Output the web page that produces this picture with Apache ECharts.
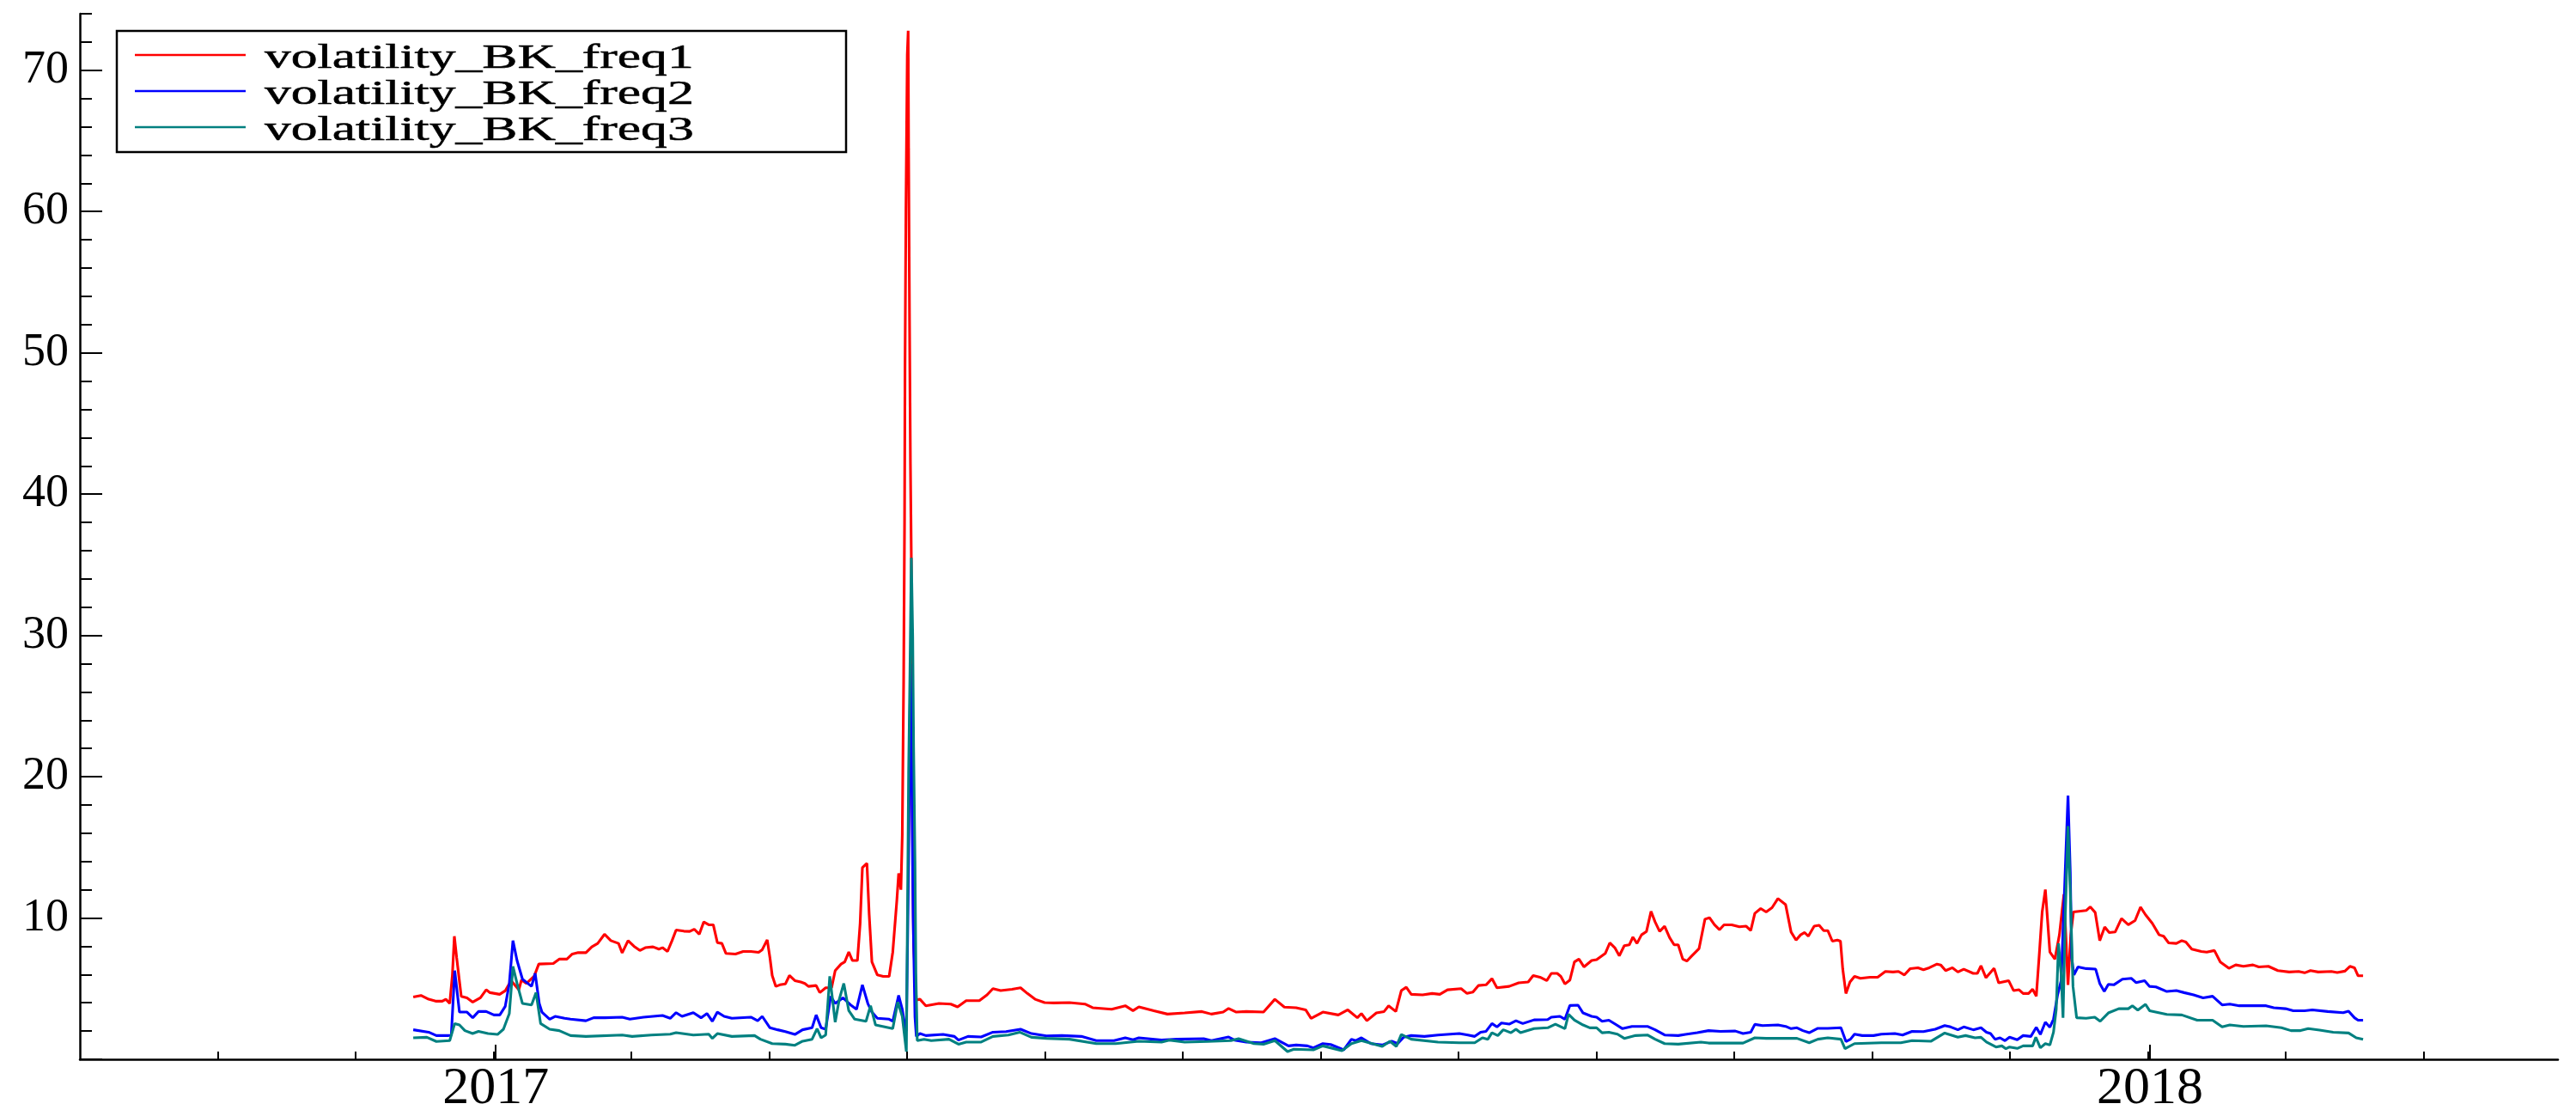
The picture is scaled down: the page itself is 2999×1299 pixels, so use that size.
<!DOCTYPE html>
<html>
<head>
<meta charset="utf-8">
<script src="https://cdn.jsdelivr.net/npm/echarts@6/dist/echarts.min.js"></script>
<style>html,body{margin:0;padding:0;background:#fff}#c{width:2999px;height:1299px}</style>
</head>
<body>
<div id="c"></div>
<script>
// x = days since 2017-01-01
const seriesNames = ['volatility_BK_freq1', 'volatility_BK_freq2', 'volatility_BK_freq3'];
const seriesColors = ['#ff0000', '#0000ff', '#008080'];
const yearLabels = ['2017', '2018'];
const yLabelValues = [10, 20, 30, 40, 50, 60, 70];

const redDays = [-17.7,-16.0,-14.3,-12.6,-11.3,-10.5,-9.65,-9.06,-8.63,-8.12,-7.11,-5.84,-4.57,-2.88,-1.61,-0.76,1.36,2.63,3.9,5.59,6.18,7.28,8.97,10.0,13.2,14.5,16.2,17.4,18.7,20.4,21.7,23.0,24.5,25.9,27.6,28.4,29.7,31.0,32.3,33.5,35.2,36.5,37.3,38.4,39.4,40.3,42.0,43.3,44.3,45.4,46.4,47.5,48.5,49.4,50.4,51.3,53.4,55.1,56.8,58.5,59.3,60.4,61.0,61.5,62.3,63.2,64.4,65.3,66.5,67.8,68.7,69.5,71.2,72.0,73.3,74.6,75.4,76.7,77.5,78.4,79.2,80.3,80.9,81.4,82.4,82.9,83.5,84.7,86.0,87.3,88.1,89.0,89.4,89.9,90.2,90.5,90.7,90.8,91.0,91.3,91.5,91.6,91.8,92.0,92.2,92.3,92.4,92.7,93.3,94.1,95.4,98.3,100.9,102.4,104.3,107.2,108.9,110.2,111.9,114.4,116.3,117.8,119.5,121.6,123.7,127.1,130.5,132.2,136.4,139.4,141.1,142.4,145.7,148.7,152.5,156.3,158.4,161.0,162.2,163.9,166.1,169.9,172.4,174.5,177.1,179.2,180.4,183.0,186.4,188.5,190.6,191.5,192.7,194.8,196.5,197.5,199.1,200.3,201.4,202.5,205.0,207.1,208.8,210.5,213.5,214.8,216.1,217.3,219.0,220.3,221.4,224.1,226.2,228.3,229.4,230.9,232.4,233.4,234.7,235.5,236.4,237.5,238.5,239.5,240.6,242.3,243.4,245.3,246.3,247.4,248.4,249.5,250.6,251.4,252.3,253.3,254.4,255.4,256.3,257.3,258.4,259.5,260.5,261.4,262.4,263.3,264.3,266.0,267.3,268.3,269.4,270.5,271.5,273.2,274.9,276.4,277.4,278.3,279.6,280.8,282.1,283.4,285.1,286.3,287.4,288.4,289.3,290.1,291.4,292.5,293.5,294.4,295.4,296.5,297.2,297.7,298.4,299.3,300.3,301.6,303.7,305.4,307.1,308.8,310.0,311.3,312.6,314.3,315.5,316.8,318.5,319.3,320.4,321.9,323.1,324.4,326.5,327.4,328.2,329.3,331.1,332.1,334.3,335.4,336.6,337.5,338.7,339.6,340.4,341.1,341.7,342.4,343.4,344.5,345.5,346.5,347.0,347.4,348.0,348.6,351.4,352.3,353.4,354.4,355.5,356.5,357.8,359.2,360.7,362.2,363.4,364.5,366.0,367.5,368.5,369.6,371.3,372.5,373.4,374.7,376.8,378.0,379.7,381.0,382.9,384.4,386.1,388.2,389.5,391.6,393.7,396.2,398.3,399.6,400.9,402.6,405.5,406.8,408.5,409.6,410.6,411.4,412.5];
const redVals = [4.41,4.52,4.25,4.11,4.11,4.25,3.95,5.97,8.71,7.19,4.46,4.35,4.05,4.35,4.92,4.72,4.60,4.86,5.57,4.92,5.61,5.37,5.87,6.74,6.78,7.09,7.09,7.45,7.55,7.55,7.96,8.20,8.85,8.40,8.20,7.53,8.40,8.00,7.70,7.90,7.96,7.80,7.90,7.63,8.40,9.15,9.07,9.05,9.21,8.85,9.72,9.52,9.52,8.26,8.20,7.49,7.45,7.63,7.63,7.57,7.76,8.46,7.19,5.93,5.16,5.27,5.33,5.93,5.57,5.47,5.37,5.16,5.22,4.72,5.06,5.06,6.28,6.74,6.89,7.59,6.99,6.99,9.62,13.57,13.87,10.23,6.89,5.97,5.87,5.87,7.59,11.24,13.16,12.0,15.9,26.8,38.0,48.8,60.0,71.1,72.8,64.4,52.3,42.1,35.3,26.6,17.9,8.1,4.2,4.25,3.79,3.95,3.91,3.71,4.15,4.15,4.56,5.0,4.86,4.96,5.06,4.66,4.25,4.01,3.99,4.01,3.91,3.65,3.54,3.79,3.44,3.71,3.44,3.20,3.28,3.38,3.20,3.34,3.60,3.34,3.38,3.34,4.25,3.69,3.65,3.50,2.90,3.34,3.14,3.50,2.94,3.24,2.73,3.28,3.38,3.79,3.38,4.86,5.10,4.60,4.56,4.66,4.60,4.92,5.0,4.66,4.76,5.22,5.27,5.71,5.06,5.16,5.41,5.47,5.93,5.81,5.57,6.08,6.08,5.87,5.33,5.61,6.89,7.09,6.54,6.99,7.05,7.49,8.24,7.90,7.33,8.04,8.10,8.65,8.20,8.81,9.05,10.47,9.72,9.05,9.42,8.61,8.10,8.10,7.09,6.95,7.29,7.84,9.92,10.02,9.52,9.17,9.52,9.52,9.38,9.42,9.11,10.33,10.67,10.43,10.73,11.38,10.94,9.01,8.44,8.81,8.97,8.71,9.42,9.48,9.11,9.11,8.36,8.44,8.36,6.38,4.66,5.47,5.87,5.73,5.81,5.81,6.22,6.18,6.22,5.97,6.42,6.48,6.34,6.48,6.74,6.68,6.28,6.48,6.18,6.38,6.08,6.08,6.62,5.77,6.44,5.41,5.57,4.86,4.92,4.66,4.66,4.96,4.46,7.59,10.43,12.01,7.59,7.09,8.81,11.68,8.20,5.27,8.81,10.43,10.53,10.79,10.39,8.40,9.36,8.97,9.01,9.96,9.52,9.82,10.77,10.23,9.62,8.81,8.71,8.24,8.20,8.40,8.30,7.80,7.63,7.59,7.70,6.89,6.44,6.68,6.58,6.68,6.54,6.58,6.28,6.18,6.22,6.12,6.28,6.18,6.22,6.14,6.24,6.58,6.48,5.91,5.91];

const blueDays = [-17.7,-14.3,-12.6,-10.1,-9.3,-8.55,-7.5,-5.84,-4.57,-3.3,-1.6,0.1,1.4,2.6,3.5,4.3,5.2,6.4,8.4,9.2,10.1,10.7,12.4,13.6,15.7,17.0,20.4,22.1,24.6,28.4,30.1,33.1,37.3,39.0,40.3,41.6,44.1,45.8,47.1,48.3,49.4,50.9,52.6,56.8,58.3,59.3,61.0,62.7,64.4,66.5,68.2,70.3,71.2,72.3,73.3,74.4,75.4,77.1,78.8,80.1,81.4,82.6,83.5,84.7,87.3,88.1,89.4,90.2,90.8,91.1,91.6,92.0,92.3,92.6,93.0,93.3,94.1,95.4,99.2,101.7,102.6,104.7,107.6,110.2,113.1,116.3,118.7,122.0,125.4,129.7,133.0,136.9,139.4,141.1,142.4,147.4,150.8,156.7,158.4,162.2,163.5,166.1,169.4,172.4,175.4,177.1,179.6,180.9,183.0,184.7,187.6,189.3,190.2,191.5,193.6,196.1,198.2,199.5,200.8,202.5,205.4,208.4,213.1,215.0,216.5,217.8,219.0,220.3,221.4,222.4,224.1,225.6,227.1,229.6,232.6,233.4,235.3,236.4,237.5,239.3,240.4,242.3,243.4,244.6,246.1,247.8,249.1,251.2,254.6,256.3,258.4,261.4,263.0,265.6,268.1,270.7,274.0,275.7,277.4,278.3,280.0,283.4,285.1,286.3,287.6,288.9,290.3,292.2,294.4,297.3,298.4,299.4,300.3,302.0,304.5,306.2,309.2,310.9,313.0,315.5,318.1,320.2,321.5,323.1,324.4,326.5,328.2,329.4,330.3,331.3,332.4,333.5,334.5,336.2,337.5,339.2,340.4,341.3,342.4,343.4,344.2,345.1,345.9,346.8,347.4,347.9,348.2,348.7,349.6,351.4,353.5,354.4,355.4,356.3,357.5,359.4,361.4,362.4,364.3,365.4,366.8,369.2,371.3,373.0,375.1,377.2,379.3,381.4,383.1,385.2,391.1,392.8,395.4,397.1,399.6,401.3,404.7,408.1,409.3,410.6,411.4,412.5];
const blueVals = [2.09,1.92,1.68,1.68,1.70,6.28,3.34,3.34,2.94,3.38,3.38,3.14,3.14,3.75,5.37,8.40,6.99,5.67,5.16,6.08,3.95,3.34,2.84,3.04,2.90,2.84,2.73,2.94,2.94,2.98,2.84,2.98,3.10,2.90,3.30,3.04,3.30,2.94,3.24,2.69,3.34,3.04,2.90,2.98,2.73,3.04,2.23,2.09,1.96,1.76,2.09,2.23,3.14,2.23,2.13,4.46,3.95,4.35,3.85,3.54,5.27,3.95,3.34,2.90,2.84,2.69,4.52,3.54,2.23,2.0,14.0,28.0,20.0,10.0,3.0,1.62,1.82,1.68,1.76,1.62,1.36,1.62,1.58,1.92,1.96,2.13,1.82,1.66,1.68,1.62,1.32,1.32,1.52,1.38,1.52,1.36,1.42,1.46,1.32,1.58,1.36,1.22,1.17,1.46,0.95,1.01,0.95,0.81,1.11,1.05,0.67,1.42,1.32,1.52,1.11,1.01,1.28,1.11,1.56,1.68,1.62,1.72,1.82,1.72,1.62,1.92,1.98,2.53,2.29,2.57,2.49,2.73,2.53,2.79,2.81,2.98,3.04,2.84,3.81,3.83,3.28,3.04,2.98,2.69,2.77,2.43,2.17,2.33,2.33,2.09,1.72,1.68,1.76,1.88,2.03,1.98,2.00,1.82,1.92,2.47,2.39,2.43,2.33,2.17,2.23,2.03,1.88,2.19,2.19,2.23,1.26,1.42,1.78,1.68,1.68,1.78,1.82,1.72,1.98,1.96,2.13,2.39,2.29,2.09,2.29,2.09,2.23,1.92,1.82,1.42,1.52,1.32,1.56,1.38,1.68,1.62,2.27,1.76,2.63,2.27,2.84,4.56,5.57,13.47,18.67,13.26,7.19,5.97,6.54,6.42,6.38,5.37,4.80,5.31,5.27,5.67,5.73,5.43,5.57,5.16,5.12,4.80,4.86,4.72,4.56,4.35,4.46,3.85,3.91,3.79,3.79,3.65,3.58,3.44,3.44,3.50,3.38,3.30,3.40,2.94,2.77,2.77];

const tealDays = [-17.7,-14.7,-12.6,-9.65,-8.55,-7.5,-6.3,-4.6,-3.3,-1.2,0.9,2.2,3.5,4.3,5.2,6.4,8.4,9.4,10.4,12.4,14.5,17.0,20.4,28.4,30.6,34.8,39.0,40.3,44.1,47.5,48.3,49.4,52.6,57.6,58.9,61.5,64.4,66.5,68.2,70.3,71.4,72.3,73.3,74.2,75.4,76.3,77.3,78.4,79.7,82.2,83.2,84.3,88.1,89.2,90.2,91.1,91.6,91.9,92.2,92.5,92.7,93.0,93.2,93.5,95.0,96.6,100.5,102.6,104.3,107.6,110.2,113.6,116.1,118.7,122.0,127.1,133.0,137.3,142.4,147.4,149.1,152.5,157.6,162.7,164.4,167.8,169.9,172.4,175.2,176.6,180.9,183.0,187.2,189.3,191.5,196.1,197.8,199.2,200.3,202.5,208.4,213.1,216.5,218.2,219.4,220.3,221.6,222.8,224.5,225.6,226.6,229.6,232.6,234.3,236.4,237.2,238.5,240.4,241.9,243.4,244.6,246.1,248.0,249.5,252.0,254.6,256.3,258.4,261.4,266.4,268.1,275.7,278.3,280.8,287.6,290.3,292.2,294.4,297.3,298.2,300.3,306.2,310.5,313.0,317.2,320.2,323.1,324.8,326.9,328.2,329.4,331.5,332.8,333.7,334.5,336.2,337.5,339.6,340.3,341.3,342.4,343.4,344.2,344.8,345.3,345.9,346.3,346.8,347.4,347.9,348.5,349.3,351.4,353.3,354.5,356.3,358.6,360.7,361.6,362.8,364.5,365.4,369.2,372.5,375.9,379.3,381.4,383.1,386.1,391.1,394.5,396.6,398.7,400.4,402.9,405.9,409.3,411.0,412.5];
const tealVals = [1.52,1.56,1.26,1.32,2.53,2.43,2.03,1.82,1.98,1.82,1.76,2.13,3.24,6.58,5.37,3.95,3.85,4.72,2.53,2.13,2.03,1.68,1.62,1.72,1.62,1.72,1.78,1.88,1.72,1.78,1.48,1.82,1.62,1.68,1.42,1.11,1.07,0.99,1.28,1.42,2.17,1.52,1.72,5.87,2.63,4.25,5.37,3.44,2.84,2.69,3.79,2.43,2.17,4.05,3.04,0.55,20.3,27.5,35.5,29.9,22.0,14.0,6.1,1.32,1.42,1.32,1.42,1.07,1.22,1.22,1.62,1.72,1.92,1.56,1.48,1.42,1.11,1.11,1.28,1.22,1.36,1.22,1.26,1.32,1.46,1.11,1.07,1.32,0.55,0.71,0.67,0.95,0.61,1.11,1.32,0.91,1.28,0.91,1.76,1.42,1.22,1.17,1.17,1.52,1.42,1.88,1.68,2.09,1.88,2.13,1.88,2.17,2.23,2.49,2.17,3.18,2.77,2.43,2.23,2.23,1.88,1.92,1.78,1.48,1.68,1.72,1.42,1.11,1.07,1.22,1.15,1.15,1.52,1.48,1.48,1.17,1.42,1.52,1.42,0.75,1.11,1.17,1.17,1.32,1.28,1.86,1.56,1.68,1.52,1.56,1.22,0.87,0.95,0.75,0.87,0.77,0.95,0.95,1.56,0.81,1.11,1.01,1.92,3.54,8.20,5.97,2.94,10.23,16.5,11.85,5.16,2.94,2.90,2.98,2.69,3.28,3.58,3.58,3.79,3.48,3.89,3.44,3.18,3.14,2.77,2.77,2.29,2.43,2.33,2.37,2.23,2.03,2.03,2.17,2.07,1.92,1.86,1.52,1.42];

const DAYS_PER_YEAR = 365;
const xMin = -DAYS_PER_YEAR / 4;
const xMax = 455.5;
const monthTicks = [];
for (let k = -2; k <= 14; k++) monthTicks.push(k * DAYS_PER_YEAR / 12);
const yearTicks = [0.5, DAYS_PER_YEAR + 0.5];
const yMinorTicks = [];
for (let v = 0; v <= 74; v += 2) yMinorTicks.push(v);

const zip = (xs, ys) => xs.map((x, i) => [x, ys[i]]);
const FONT = 'Liberation Serif';
const black = '#000';
const LW = 3.1;

const chart = echarts.init(document.getElementById('c'), null, {renderer: 'canvas'});

const legendRows = seriesNames.map((name, i) => ({
  type: 'group',
  children: [
    {type: 'line', shape: {x1: 21, y1: 28 + 42 * i, x2: 150, y2: 28 + 42 * i},
     style: {stroke: seriesColors[i], lineWidth: 2.6}},
    {type: 'text', x: 172, y: 33 + 42 * i, scaleX: 1.58, scaleY: 1,
     style: {text: name, font: '39px "' + FONT + '"', fill: black, stroke: black, lineWidth: 0.5,
             verticalAlign: 'middle', align: 'left'}}
  ]
}));

chart.setOption({
  animation: false,
  backgroundColor: '#fff',
  grid: {left: 93, right: 21, top: 16, bottom: 65},
  xAxis: [
    {type: 'value', position: 'bottom', min: xMin, max: xMax,
     axisLine: {show: true, onZero: false, lineStyle: {color: black, width: 2.5}},
     axisTick: {show: true, inside: true, length: 9, customValues: monthTicks, lineStyle: {color: black, width: 2}},
     axisLabel: {show: false}, splitLine: {show: false}},
    {type: 'value', position: 'bottom', min: xMin, max: xMax,
     axisLine: {show: false, onZero: false},
     axisTick: {show: true, inside: true, length: 17, customValues: yearTicks, lineStyle: {color: black, width: 2}},
     axisLabel: {show: true, customValues: yearTicks, margin: 4,
       formatter: v => yearLabels[Math.round(v / DAYS_PER_YEAR)],
       fontFamily: FONT, fontSize: 62, color: black},
     splitLine: {show: false}}
  ],
  yAxis: [
    {type: 'value', min: 0, max: 74, position: 'left',
     axisLine: {show: true, onZero: false, lineStyle: {color: black, width: 2.5}},
     axisTick: {show: true, inside: true, length: 26, customValues: [0].concat(yLabelValues), lineStyle: {color: black, width: 2}},
     axisLabel: {show: true, customValues: yLabelValues, margin: 13, fontFamily: FONT, fontSize: 54, color: black},
     splitLine: {show: false}},
    {type: 'value', min: 0, max: 74, position: 'left', offset: 0,
     axisLine: {show: false, onZero: false},
     axisTick: {show: true, inside: true, length: 14, customValues: yMinorTicks, lineStyle: {color: black, width: 2}},
     axisLabel: {show: false}, splitLine: {show: false}}
  ],
  series: [
    {name: seriesNames[0], type: 'line', data: zip(redDays, redVals), showSymbol: false, symbol: 'none',
     lineStyle: {color: seriesColors[0], width: LW}, itemStyle: {color: seriesColors[0]}, z: 2},
    {name: seriesNames[1], type: 'line', data: zip(blueDays, blueVals), showSymbol: false, symbol: 'none',
     lineStyle: {color: seriesColors[1], width: LW}, itemStyle: {color: seriesColors[1]}, z: 3},
    {name: seriesNames[2], type: 'line', data: zip(tealDays, tealVals), showSymbol: false, symbol: 'none',
     lineStyle: {color: seriesColors[2], width: LW}, itemStyle: {color: seriesColors[2]}, z: 4}
  ],
  graphic: [{
    type: 'group', x: 136, y: 36, z: 100,
    children: [
      {type: 'rect', shape: {x: 0, y: 0, width: 849, height: 141},
       style: {fill: '#fff', stroke: black, lineWidth: 2.5}}
    ].concat(legendRows)
  }]
});
</script>
</body>
</html>
